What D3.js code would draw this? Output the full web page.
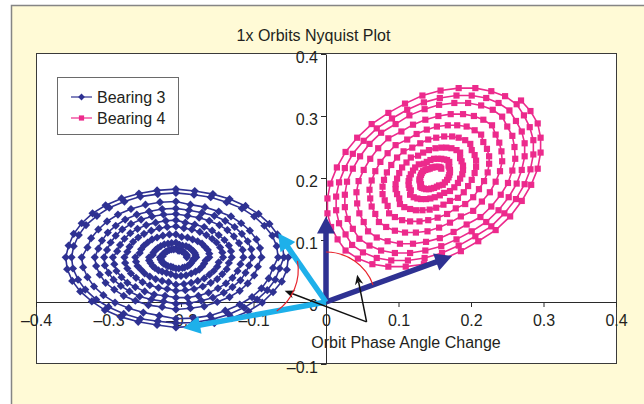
<!DOCTYPE html>
<html><head><meta charset="utf-8">
<script src="https://cdn.jsdelivr.net/npm/d3@7"></script>
<style>body{margin:0;background:#fff;overflow:hidden}</style>
</head><body>
<svg id="c" width="644" height="404"></svg>
<script>
const chartTitle = "1x Orbits Nyquist Plot";
const xAxisTitle = "Orbit Phase Angle Change";
const seriesNames = ["Bearing 3", "Bearing 4"];
const xTicks = [-0.4, -0.3, -0.2, -0.1, 0, 0.1, 0.2, 0.3, 0.4];
const yTicks = [-0.1, 0, 0.1, 0.2, 0.3, 0.4];

const bearing3 = [
[-.192,.072],[-.192,.074],[-.192,.076],[-.194,.078],[-.195,.079],[-.197,.081],[-.199,.082],[-.202,.083],[-.204,.083],
[-.207,.086],[-.210,.085],[-.213,.085],[-.216,.084],[-.219,.082],[-.221,.081],[-.223,.079],[-.225,.077],[-.225,.074],
[-.229,.072],[-.228,.069],[-.227,.067],[-.226,.064],[-.224,.062],[-.221,.060],[-.218,.058],[-.214,.057],[-.211,.056],
[-.207,.054],[-.203,.054],[-.198,.055],[-.195,.056],[-.191,.058],[-.188,.060],[-.186,.063],[-.184,.066],[-.183,.069],
[-.179,.072],[-.180,.076],[-.181,.079],[-.183,.082],[-.186,.085],[-.189,.088],[-.193,.090],[-.198,.091],[-.202,.092],
[-.207,.096],[-.213,.095],[-.218,.094],[-.223,.093],[-.228,.090],[-.232,.087],[-.235,.084],[-.238,.080],[-.239,.076],
[-.244,.072],[-.244,.067],[-.242,.063],[-.239,.058],[-.236,.055],[-.231,.051],[-.226,.049],[-.220,.047],[-.214,.045],
[-.207,.042],[-.200,.042],[-.193,.043],[-.186,.046],[-.180,.049],[-.175,.052],[-.171,.057],[-.168,.062],[-.166,.067],
[-.161,.072],[-.161,.078],[-.163,.084],[-.167,.089],[-.171,.094],[-.177,.098],[-.184,.101],[-.191,.104],[-.199,.105],
[-.207,.109],[-.216,.109],[-.225,.107],[-.233,.104],[-.240,.101],[-.246,.096],[-.251,.091],[-.255,.085],[-.257,.079],
[-.263,.072],[-.262,.065],[-.260,.058],[-.255,.052],[-.250,.046],[-.243,.041],[-.235,.037],[-.226,.034],[-.217,.032],
[-.207,.028],[-.196,.029],[-.186,.031],[-.177,.034],[-.168,.038],[-.161,.044],[-.155,.050],[-.150,.057],[-.148,.064],
[-.142,.072],[-.143,.080],[-.146,.088],[-.151,.096],[-.157,.102],[-.165,.108],[-.174,.113],[-.185,.117],[-.196,.119],
[-.207,.122],[-.219,.121],[-.230,.119],[-.241,.115],[-.251,.110],[-.259,.104],[-.266,.097],[-.271,.089],[-.274,.081],
[-.278,.072],[-.277,.063],[-.274,.054],[-.269,.046],[-.262,.039],[-.253,.032],[-.243,.027],[-.231,.023],[-.219,.021],
[-.207,.018],[-.194,.019],[-.182,.021],[-.170,.025],[-.159,.031],[-.150,.037],[-.143,.045],[-.137,.053],[-.134,.063],
[-.130,.072],[-.131,.082],[-.134,.091],[-.140,.100],[-.148,.108],[-.157,.115],[-.168,.121],[-.181,.125],[-.194,.128],
[-.207,.132],[-.221,.131],[-.235,.128],[-.248,.124],[-.260,.118],[-.270,.111],[-.278,.102],[-.284,.092],[-.288,.082],
[-.294,.072],[-.292,.061],[-.289,.050],[-.282,.040],[-.274,.031],[-.263,.024],[-.250,.017],[-.237,.012],[-.222,.010],
[-.207,.007],[-.191,.007],[-.176,.010],[-.162,.015],[-.149,.022],[-.138,.030],[-.129,.039],[-.122,.050],[-.118,.061],
[-.114,.072],[-.115,.084],[-.120,.095],[-.127,.106],[-.136,.116],[-.147,.124],[-.161,.131],[-.175,.136],[-.191,.139],
[-.207,.142],[-.224,.141],[-.240,.138],[-.255,.133],[-.269,.126],[-.281,.117],[-.290,.107],[-.297,.096],[-.302,.084],
[-.306,.072],[-.305,.059],[-.300,.047],[-.293,.036],[-.283,.026],[-.271,.017],[-.257,.009],[-.241,.004],[-.224,.001],
[-.207,-.003],[-.189,-.002],[-.172,.002],[-.156,.007],[-.141,.015],[-.129,.024],[-.118,.035],[-.111,.047],[-.106,.059],
[-.102,.072],[-.103,.085],[-.108,.098],[-.116,.110],[-.126,.121],[-.139,.131],[-.154,.139],[-.171,.144],[-.189,.148],
[-.207,.151],[-.226,.150],[-.244,.146],[-.261,.141],[-.277,.133],[-.290,.123],[-.301,.112],[-.309,.099],[-.314,.086],
[-.319,.072],[-.317,.058],[-.312,.044],[-.304,.031],[-.292,.020],[-.279,.010],[-.263,.002],[-.245,-.005],[-.226,-.008],
[-.207,-.012],[-.187,-.010],[-.168,-.007],[-.150,.000],[-.133,.008],[-.119,.018],[-.108,.030],[-.099,.043],[-.094,.057],
[-.089,.072],[-.091,.087],[-.096,.101],[-.105,.115],[-.117,.127],[-.131,.138],[-.148,.146],[-.167,.153],[-.187,.157],
[-.207,.162],[-.229,.161],[-.249,.157],[-.269,.150],[-.287,.141],[-.302,.130],[-.314,.117],[-.324,.103],[-.329,.088],
[-.337,.072],[-.335,.056],[-.329,.040],[-.320,.025],[-.307,.011],[-.291,-.001],[-.272,-.010],[-.252,-.017],[-.230,-.022],
[-.207,-.027],[-.183,-.026],[-.160,-.022],[-.139,-.014],[-.119,-.004],[-.102,.008],[-.089,.022],[-.079,.038],[-.073,.055],
[-.066,.072],[-.068,.090],[-.074,.107],[-.085,.123],[-.099,.138],[-.116,.151],[-.137,.161],[-.159,.169],[-.182,.173],
[-.207,.176],[-.232,.174],[-.256,.170],[-.278,.162],[-.299,.152],[-.316,.139],[-.331,.124],[-.341,.108],[-.348,.090],
[-.351,.072],[-.349,.054],[-.342,.036],[-.332,.020],[-.317,.004],[-.300,-.008],[-.279,-.019],[-.256,-.027],[-.232,-.031],
[-.207,-.034],[-.182,-.033],[-.157,-.028],[-.134,-.020],[-.113,-.009],[-.095,.004],[-.081,.019],[-.070,.036],[-.064,.054],
[-.058,.072],[-.060,.091],[-.067,.109],[-.078,.126],[-.093,.142],[-.111,.155],[-.133,.166],[-.156,.174],[-.181,.179],
[-.207,.182],[-.233,.180],[-.258,.175],[-.282,.167],[-.304,.156],[-.322,.143],[-.337,.127],[-.348,.110],[-.355,.091],
[-.359,.072],[-.357,.053],[-.350,.034],[-.339,.017],[-.323,.001],[-.305,-.013],[-.283,-.024],[-.259,-.032],[-.233,-.037],
[-.207,-.041],[-.180,-.039],[-.154,-.034],[-.130,-.026],[-.107,-.015],[-.088,-.001],[-.073,.016],[-.061,.033],[-.054,.052],
[-.052,.072]
];

const bearing4 = [
[.159,.215],[.158,.217],[.156,.218],[.153,.218],[.151,.218],[.148,.217],[.146,.217],[.143,.215],[.140,.214],
[.137,.213],[.134,.211],[.132,.208],[.131,.205],[.130,.202],[.129,.198],[.129,.196],[.130,.193],[.131,.190],
[.130,.186],[.132,.184],[.135,.183],[.138,.182],[.142,.182],[.145,.183],[.149,.184],[.153,.186],[.156,.188],
[.161,.189],[.164,.193],[.167,.197],[.169,.201],[.170,.205],[.171,.209],[.171,.213],[.170,.217],[.169,.220],
[.170,.226],[.167,.229],[.163,.230],[.159,.231],[.154,.231],[.149,.231],[.144,.229],[.139,.226],[.135,.223],
[.128,.222],[.123,.217],[.120,.212],[.117,.206],[.115,.200],[.114,.195],[.114,.189],[.115,.184],[.117,.180],
[.116,.173],[.121,.169],[.126,.167],[.131,.166],[.138,.166],[.144,.167],[.150,.169],[.157,.172],[.163,.176],
[.171,.179],[.177,.185],[.182,.192],[.185,.199],[.188,.206],[.189,.213],[.189,.220],[.187,.227],[.185,.232],
[.185,.241],[.180,.245],[.173,.248],[.166,.249],[.159,.249],[.151,.248],[.142,.245],[.134,.241],[.127,.236],
[.117,.233],[.111,.225],[.105,.217],[.101,.208],[.098,.199],[.096,.190],[.096,.182],[.098,.174],[.101,.167],
[.102,.158],[.108,.153],[.116,.150],[.124,.148],[.133,.148],[.143,.149],[.152,.152],[.162,.157],[.171,.163],
[.182,.168],[.190,.177],[.196,.187],[.201,.197],[.205,.208],[.207,.218],[.207,.228],[.205,.237],[.201,.245],
[.199,.255],[.192,.261],[.183,.265],[.174,.267],[.163,.267],[.152,.265],[.141,.262],[.130,.256],[.119,.249],
[.107,.243],[.098,.233],[.090,.221],[.084,.209],[.080,.197],[.078,.186],[.078,.174],[.081,.164],[.085,.155],
[.087,.143],[.095,.137],[.105,.132],[.116,.130],[.129,.130],[.141,.132],[.154,.136],[.167,.142],[.179,.151],
[.192,.158],[.203,.169],[.211,.182],[.218,.195],[.223,.209],[.225,.223],[.225,.235],[.222,.247],[.217,.258],
[.214,.270],[.205,.277],[.194,.283],[.181,.285],[.168,.285],[.153,.283],[.139,.278],[.125,.271],[.112,.262],
[.096,.253],[.085,.240],[.075,.226],[.068,.211],[.063,.196],[.060,.181],[.061,.167],[.063,.154],[.068,.142],
[.073,.129],[.083,.121],[.095,.115],[.109,.112],[.124,.112],[.140,.114],[.156,.120],[.171,.128],[.186,.138],
[.203,.147],[.215,.162],[.226,.177],[.234,.194],[.240,.211],[.243,.227],[.242,.243],[.239,.257],[.234,.270],
[.229,.285],[.217,.294],[.204,.300],[.189,.303],[.172,.303],[.155,.300],[.137,.294],[.120,.286],[.104,.275],
[.086,.264],[.072,.248],[.061,.231],[.052,.213],[.045,.195],[.042,.177],[.043,.159],[.046,.143],[.052,.129],
[.058,.114],[.070,.104],[.085,.098],[.102,.094],[.120,.094],[.138,.097],[.157,.103],[.176,.113],[.194,.125],
[.213,.137],[.228,.154],[.241,.173],[.251,.192],[.257,.212],[.261,.231],[.260,.250],[.257,.268],[.250,.283],
[.243,.299],[.230,.310],[.214,.317],[.196,.321],[.177,.321],[.156,.318],[.136,.311],[.115,.301],[.096,.287],
[.076,.273],[.060,.255],[.047,.235],[.037,.215],[.029,.194],[.026,.173],[.026,.153],[.030,.134],[.037,.118],
[.046,.102],[.060,.091],[.076,.083],[.095,.079],[.116,.079],[.137,.083],[.159,.090],[.180,.101],[.201,.114],
[.221,.129],[.238,.148],[.252,.169],[.263,.191],[.270,.213],[.274,.235],[.274,.256],[.270,.275],[.262,.292],
[.253,.309],[.238,.321],[.221,.329],[.201,.333],[.180,.333],[.157,.329],[.135,.322],[.112,.310],[.091,.296],
[.070,.280],[.052,.260],[.037,.239],[.026,.216],[.018,.193],[.014,.170],[.014,.148],[.018,.127],[.027,.109],
[.036,.092],[.051,.080],[.070,.071],[.090,.067],[.113,.067],[.136,.071],[.160,.079],[.183,.091],[.206,.106],
[.228,.122],[.246,.143],[.262,.166],[.274,.190],[.282,.214],[.286,.238],[.286,.261],[.281,.282],[.273,.301],
[.263,.319],[.247,.332],[.228,.340],[.206,.345],[.183,.345],[.158,.341],[.133,.333],[.109,.320],[.086,.305],
[.063,.287],[.043,.265],[.027,.242],[.015,.217],[.006,.191],[.002,.167],[.002,.143],[.007,.121],[.016,.101],
[.027,.083],[.044,.070],[.064,.061],[.086,.057],[.110,.057],[.135,.061],[.161,.069],[.186,.082],[.210,.098],
[.234,.116],[.254,.138],[.270,.163],[.283,.189],[.292,.215],[.296,.241],[.296,.265],[.292,.288],[.282,.308],
[.269,.325]
];

// vectors [x0, y0, x1, y1] in data units
const thickVectors = [[0,0,0,0.138],[0,0,0.174,0.074],[0,0,-0.066,0.111],[0,0,-0.197,-0.042]];
const thinVectors = [[0.056,-0.032,-0.057,0.018],[0.056,-0.032,0.043,0.044]];
const anglePairs = [[0,1],[2,3]];

// ---------- drawing ----------
const font = '"Liberation Sans", Arial, Helvetica, sans-serif';
const C = {navy:'#2e3192', pink:'#ec2a8c', cyan:'#1eb0ea', red:'#e8242c', ink:'#231f20'};
const svg = d3.select('#c');

svg.append('rect').attr('x',11.5).attr('y',5.5).attr('width',660).attr('height',420)
  .attr('fill','#fffad6').attr('stroke','#858585').attr('stroke-width',1.5);

const x = d3.scaleLinear().domain([-0.4,0.4]).range([36,616]);
const y = d3.scaleLinear().domain([-0.1,0.4]).range([364,54]);

svg.append('rect').attr('x',x.range()[0]+0.5).attr('y',y.range()[1]-0.5)
  .attr('width',x.range()[1]-x.range()[0]).attr('height',y.range()[0]-y.range()[1])
  .attr('fill','#fff').attr('stroke','#3a3a3a').attr('stroke-width',1);

svg.append('text').attr('x',313.5).attr('y',41).attr('text-anchor','middle')
  .attr('font-family',font).attr('font-size',16).attr('fill',C.ink).text(chartTitle);

const fmt = d => d === 0 ? '0' : (d < 0 ? '\u2013' : '') + Math.abs(d).toFixed(1);

const gx = svg.append('g').attr('transform',`translate(0,${y(0)})`)
  .call(d3.axisBottom(x).tickValues(xTicks).tickSize(5).tickSizeOuter(0).tickPadding(8).tickFormat(fmt));
const gy = svg.append('g').attr('transform',`translate(${x(0)},0)`)
  .call(d3.axisLeft(y).tickValues(yTicks).tickSize(5).tickSizeOuter(0).tickPadding(3).tickFormat(fmt));
[gx,gy].forEach(g=>{
  g.selectAll('.domain,line').attr('stroke','#2a2a2a');
  g.selectAll('text').attr('font-family',font).attr('font-size',16).attr('fill',C.ink);
});
gy.selectAll('text').attr('dy','0.52em');

svg.append('text').attr('x',406).attr('y',348).attr('text-anchor','middle')
  .attr('font-family',font).attr('font-size',16).attr('fill',C.ink).text(xAxisTitle);

const line = d3.line().x(d=>x(d[0])).y(d=>y(d[1]));
const diamond = 'M0,-4.1L4.1,0L0,4.1L-4.1,0Z';
const square = 'M-3.1,-3.1H3.1V3.1H-3.1Z';
const diamondL = 'M0,-3.4L3.4,0L0,3.4L-3.4,0Z';
const squareL = 'M-2.6,-2.6H2.6V2.6H-2.6Z';

function drawSeries(data, color, shape){
  const g = svg.append('g');
  g.append('path').attr('d',line(data)).attr('fill','none').attr('stroke',color).attr('stroke-width',1.6);
  g.selectAll('path.m').data(data).join('path').attr('class','m')
    .attr('d',shape).attr('transform',d=>`translate(${x(d[0])},${y(d[1])})`).attr('fill',color);
}
drawSeries(bearing3, C.navy, diamond);
drawSeries(bearing4, C.pink, square);

// legend
const lg = svg.append('g');
lg.append('rect').attr('x',57.5).attr('y',77.5).attr('width',121).attr('height',57)
  .attr('fill','#fff').attr('stroke','#6a6a6a').attr('stroke-width',1);
[[seriesNames[0],C.navy,diamondL],[seriesNames[1],C.pink,squareL]].forEach((s,i)=>{
  const cy = 97 + i*21;
  lg.append('line').attr('x1',71).attr('x2',92).attr('y1',cy).attr('y2',cy).attr('stroke',s[1]).attr('stroke-width',1.2);
  lg.append('path').attr('d',s[2]).attr('transform',`translate(81.5,${cy})`).attr('fill',s[1]);
  lg.append('text').attr('x',97).attr('y',cy+6).attr('font-family',font).attr('font-size',16)
    .attr('fill',C.ink).text(s[0]);
});

// arrows
const ag = svg.append('g');
function px(v){ return [x(v[0]),y(v[1]),x(v[2]),y(v[3])]; }
thickVectors.forEach((v,i)=>{
  const [x0,y0,x1,y1] = px(v);
  const col = i < 2 ? C.navy : C.cyan;
  const len = Math.hypot(x1-x0,y1-y0), ux=(x1-x0)/len, uy=(y1-y0)/len;
  const L=17, Wd=9, bx=x1-ux*L, by=y1-uy*L;
  ag.append('line').attr('x1',x0).attr('y1',y0).attr('x2',bx+ux).attr('y2',by+uy)
    .attr('stroke',col).attr('stroke-width',5.5);
  ag.append('path').attr('d',`M${x1},${y1}L${bx-uy*Wd},${by+ux*Wd}L${bx+uy*Wd},${by-ux*Wd}Z`).attr('fill',col);
});
thinVectors.forEach(v=>{
  const [x0,y0,x1,y1] = px(v);
  const len = Math.hypot(x1-x0,y1-y0), ux=(x1-x0)/len, uy=(y1-y0)/len;
  const L=10, Wd=4.2, bx=x1-ux*L, by=y1-uy*L, nx=x1-ux*7, ny=y1-uy*7;
  ag.append('line').attr('x1',x0).attr('y1',y0).attr('x2',nx).attr('y2',ny)
    .attr('stroke','#111').attr('stroke-width',1.5);
  ag.append('path').attr('d',`M${x1},${y1}L${bx-uy*Wd},${by+ux*Wd}L${nx},${ny}L${bx+uy*Wd},${by-ux*Wd}Z`).attr('fill','#111');
});
anglePairs.forEach(p=>{
  const a = px(thickVectors[p[0]]), b = px(thickVectors[p[1]]);
  const cx = a[0], cy = a[1], r = x(0.069)-x(0);
  const a1 = Math.atan2(-(a[3]-a[1]), a[2]-a[0]), a2 = Math.atan2(-(b[3]-b[1]), b[2]-b[0]);
  const sx = cx + r*Math.cos(a1), sy = cy - r*Math.sin(a1);
  const ex = cx + r*Math.cos(a2), ey = cy - r*Math.sin(a2);
  const sweep = a2 < a1 ? 1 : 0;
  ag.append('path').attr('d',`M${sx},${sy}A${r},${r} 0 0 ${sweep} ${ex},${ey}`)
    .attr('fill','none').attr('stroke',C.red).attr('stroke-width',1.2);
});
</script>
</body></html>
